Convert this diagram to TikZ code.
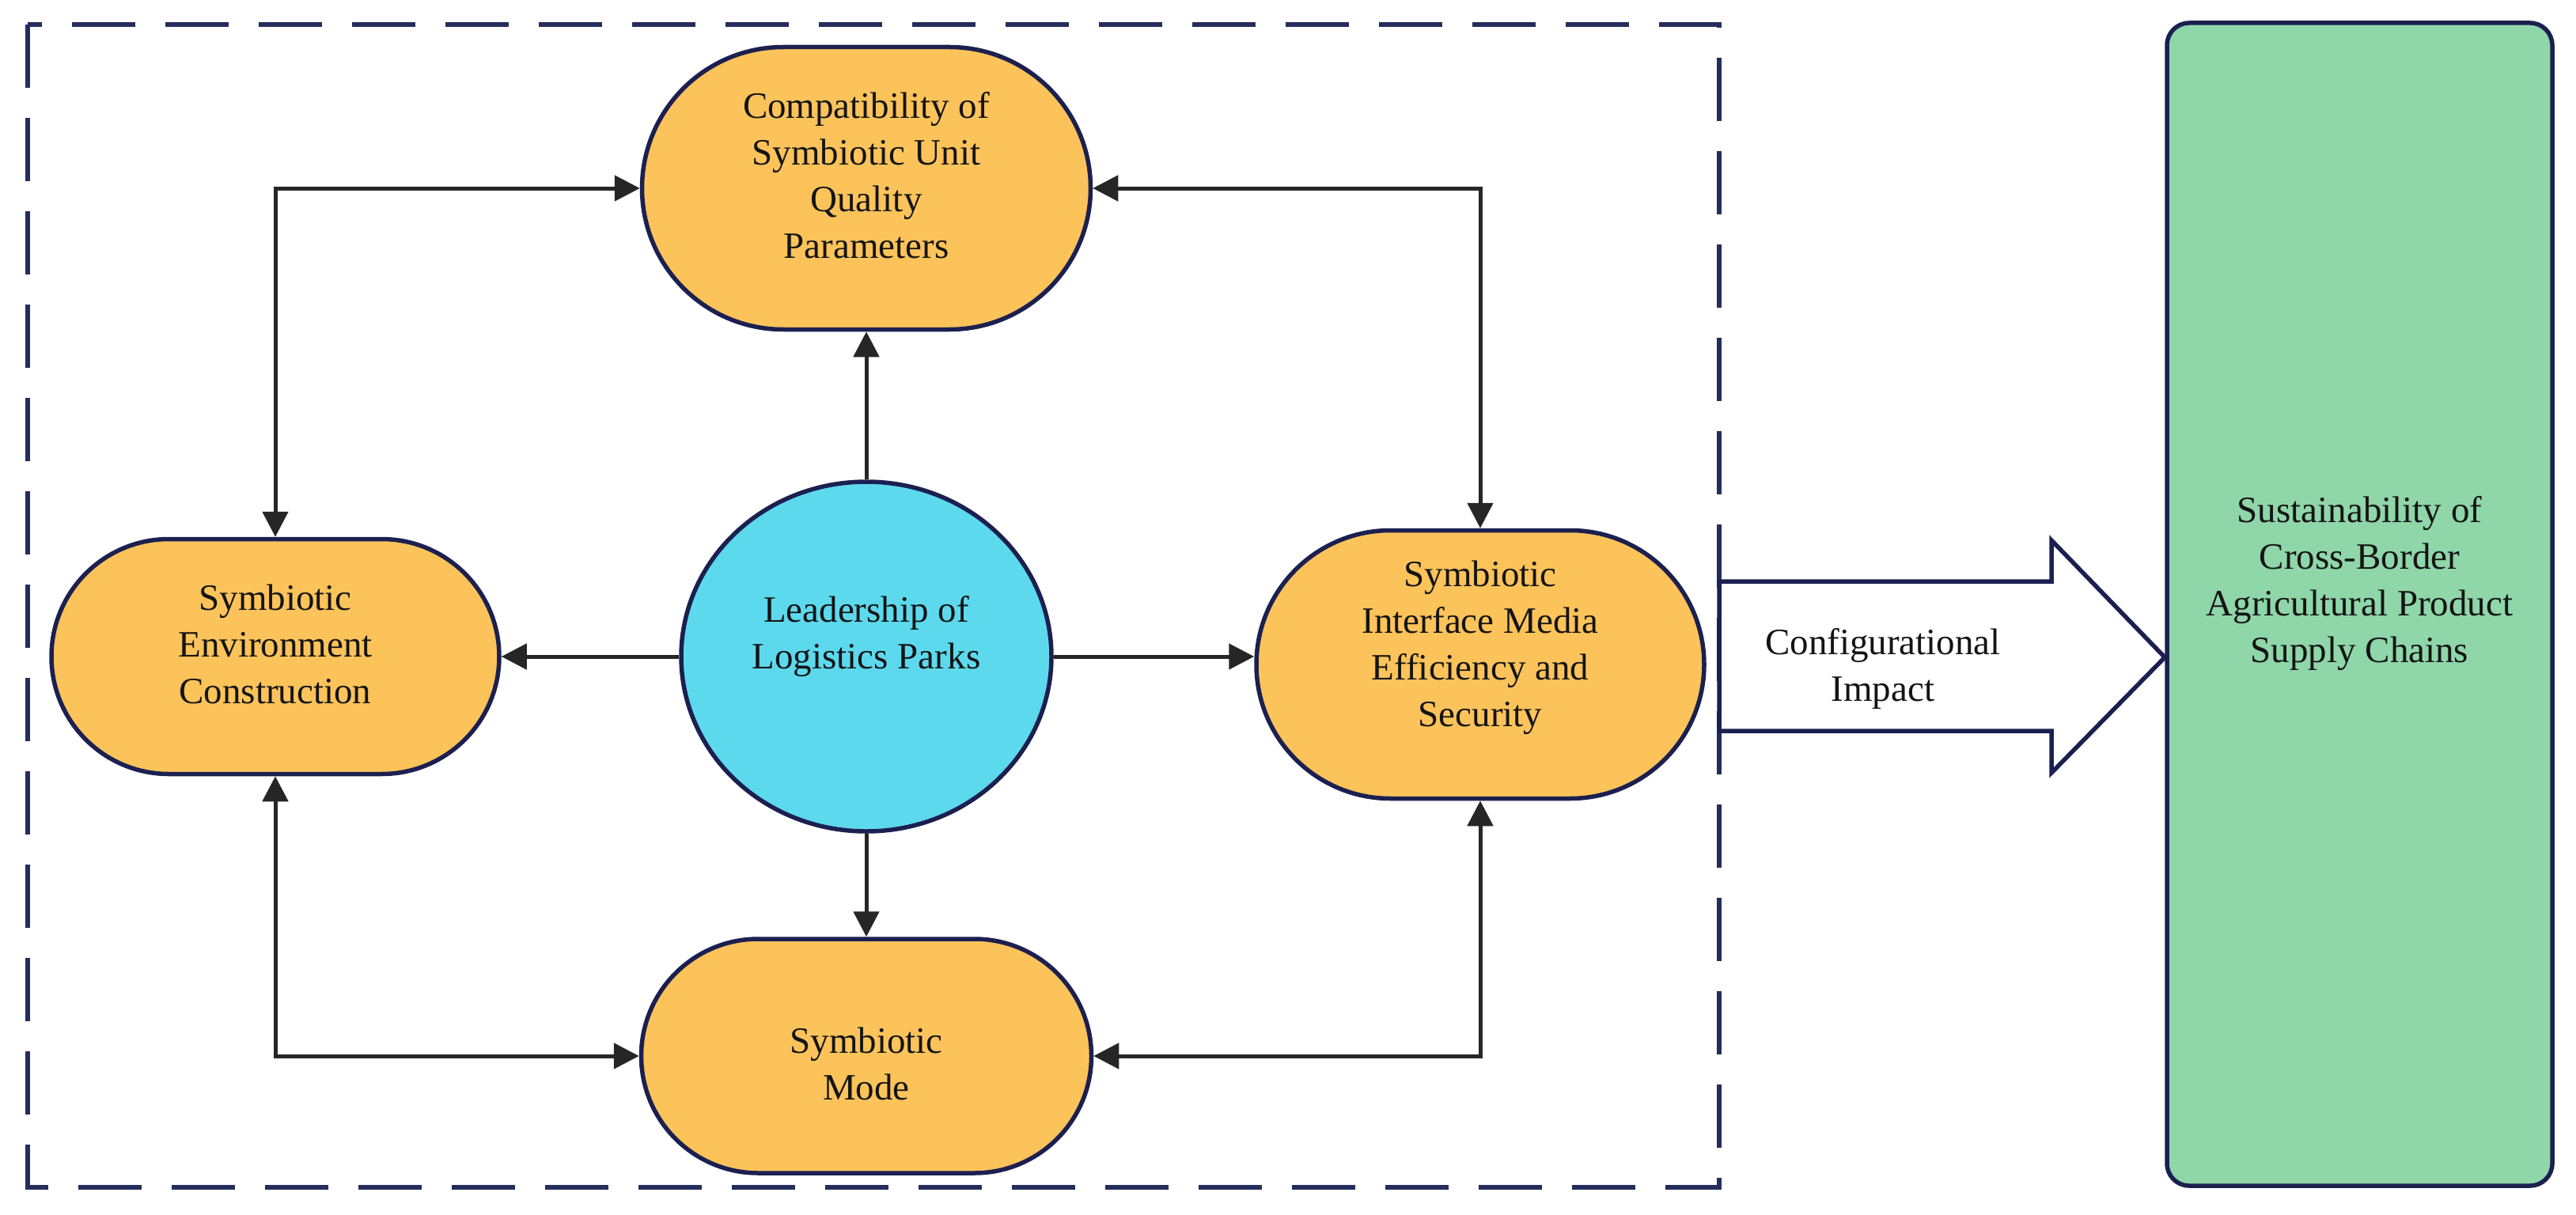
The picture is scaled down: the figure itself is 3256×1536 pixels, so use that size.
\documentclass[tikz,border=0pt]{standalone}
\usepackage{fontspec}
\setmainfont{Liberation Serif}
\usetikzlibrary{arrows.meta,shapes.geometric,shapes.misc}
\definecolor{orangefill}{HTML}{FCC35A}
\definecolor{cyanfill}{HTML}{5DD9EE}
\definecolor{greenfill}{HTML}{8FD6A9}
\definecolor{navy}{HTML}{1B2050}
\definecolor{dashc}{HTML}{252D5C}
\definecolor{linec}{HTML}{262626}
\definecolor{txt}{HTML}{141414}
\begin{document}
\begin{tikzpicture}[x=1pt,y=1pt,
  stadium/.style={rounded rectangle, draw=navy, line width=5.5pt, fill=orangefill, inner sep=0pt},
  txtstyle/.style={align=center, font=\fontsize{47}{59}\selectfont, text=txt, inner sep=0pt},
  conn/.style={draw=linec, line width=5pt},
  tipboth/.style={conn, arrows={Triangle[length=32pt,width=32pt]-Triangle[length=32pt,width=32pt]}},
  tipend/.style={conn, arrows={-Triangle[length=32pt,width=32pt]}}]
\useasboundingbox (0,0) rectangle (3256,-1536);
% dashed frame
\draw[dashc, line width=5.5pt, dash pattern=on 80pt off 38pt] (35,-31) rectangle (2173,-1501);
% shapes
\node[stadium, minimum width=567pt, minimum height=357pt] (top) at (1095,-238) {};
\node[stadium, minimum width=566pt, minimum height=297pt] (left) at (348,-830) {};
\node[stadium, minimum width=566pt, minimum height=339pt] (right) at (1871,-840) {};
\node[stadium, minimum width=569pt, minimum height=296pt] (bottom) at (1095,-1335) {};
\node[ellipse, draw=navy, line width=5.5pt, fill=cyanfill, minimum width=468pt, minimum height=442pt, inner sep=0pt] (circ) at (1095,-830) {};
\node[rectangle, rounded corners=28pt, draw=navy, fill=greenfill, line width=5.5pt, minimum width=487pt, minimum height=1470pt, inner sep=0pt] (goal) at (2982.5,-764) {};
% big arrow
\draw[navy, line width=5.5pt, fill=white, line join=miter]
  (2173,-735) -- (2593,-735) -- (2593,-683) -- (goal.west |- 0,-831) -- (2593,-977) -- (2593,-924) -- (2173,-924) -- cycle;
% texts
\node[txtstyle] (toptxt) at (1095,-222) {Compatibility of\\Symbiotic Unit\\Quality\\Parameters};
\node[txtstyle] (lefttxt) at (348,-814) {Symbiotic\\Environment\\Construction};
\node[txtstyle] (righttxt) at (1871,-819) {Symbiotic\\Interface Media\\Efficiency and\\Security};
\node[txtstyle] (bottomtxt) at (1095,-1345) {Symbiotic\\Mode};
\node[txtstyle] (circtxt) at (1095,-805) {Leadership of\\Logistics Parks};
\node[txtstyle] (goaltxt) at (2982.5,-738) {Sustainability of\\Cross-Border\\Agricultural Product\\Supply Chains};
\node[txtstyle] (impact) at (2380,-845) {Configurational\\Impact};
% connectors
\draw[tipboth] (top.west) -| (left.north);
\draw[tipboth] (top.east) -| (right.north);
\draw[tipboth] (left.south) |- (bottom.west);
\draw[tipboth] (right.south) |- (bottom.east);
\draw[tipend] (circ.north) -- (top.south);
\draw[tipend] (circ.west) -- (left.east);
\draw[tipend] (circ.east) -- (circ.east -| right.west);
\draw[tipend] (circ.south) -- (bottom.north);
\end{tikzpicture}
\end{document}
